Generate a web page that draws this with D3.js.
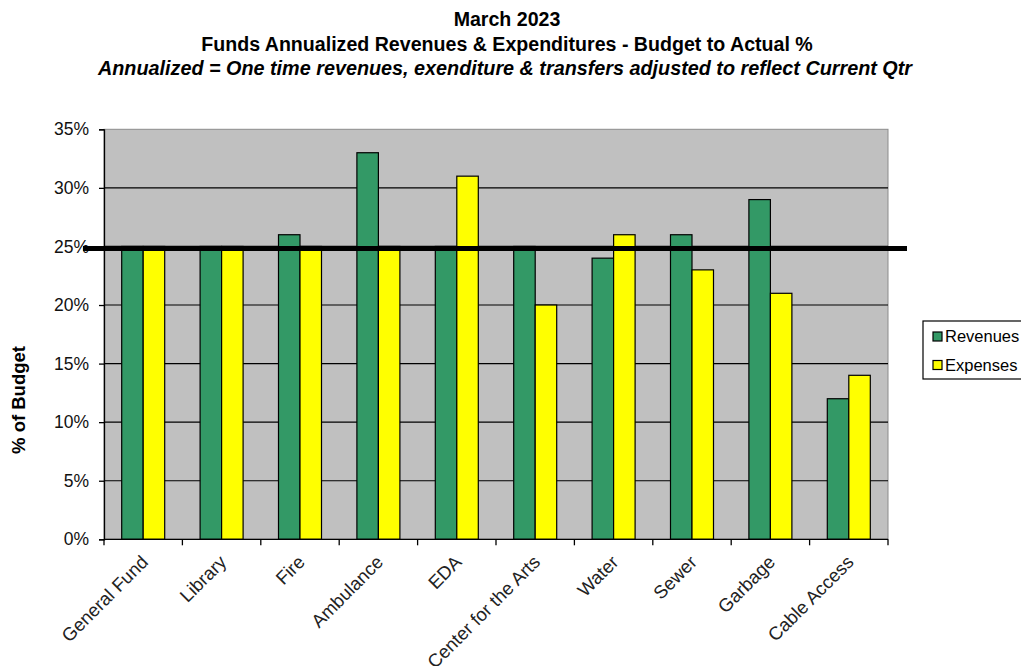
<!DOCTYPE html>
<html>
<head>
<meta charset="utf-8">
<script src="https://cdn.jsdelivr.net/npm/d3@7"></script>
<style>
  html, body { margin: 0; padding: 0; background: #fff; }
  svg { display: block; font-family: "Liberation Sans", Arial, sans-serif; }
</style>
</head>
<body>
<svg id="chart" width="1021" height="666"></svg>
<script>
// Funds budget-to-actual percentages, March 2023
const categories = ["General Fund", "Library", "Fire", "Ambulance", "EDA",
  "Center for the Arts", "Water", "Sewer", "Garbage", "Cable Access"];
const revenues = [25, 25, 26, 33, 25, 25, 24, 26, 29, 12];
const expenses = [25, 25, 25, 25, 31, 20, 26, 23, 21, 14];
const seriesNames = ["Revenues", "Expenses"];
const seriesColors = ["#339966", "#FFFF00"];
const yTicks = [0, 5, 10, 15, 20, 25, 30, 35];
const benchmark = 25; // one quarter of the annual budget
const titleLines = [
  "March 2023",
  "Funds Annualized Revenues & Expenditures - Budget to Actual %",
  "Annualized = One time revenues, exenditure & transfers adjusted to reflect Current Qtr"
];

const svg = d3.select("#chart");
const plot = { left: 104, right: 888, top: 129.3, bottom: 539.3 };

const x = d3.scaleBand().domain(categories).range([plot.left, plot.right]).padding(0);
const y = d3.scaleLinear().domain([0, 35]).range([plot.bottom, plot.top]);
const barW = 21.5;
const xs = d3.scaleBand().domain(seriesNames).range([-barW, barW]).padding(0);

// plot background
svg.append("rect")
  .attr("x", plot.left).attr("y", plot.top)
  .attr("width", plot.right - plot.left).attr("height", plot.bottom - plot.top)
  .attr("fill", "#C0C0C0").attr("stroke", "#8c8c8c").attr("stroke-width", 1);

// gridlines
svg.append("g").selectAll("line").data(yTicks.filter(d => d > 0 && d < 35)).join("line")
  .attr("x1", plot.left).attr("x2", plot.right)
  .attr("y1", d => y(d)).attr("y2", d => y(d))
  .attr("stroke", "#000").attr("stroke-width", 1.2);

// bars
const rows = categories.map((c, i) => ({ cat: c, vals: [revenues[i], expenses[i]] }));
const groups = svg.append("g").selectAll("g").data(rows).join("g")
  .attr("transform", d => `translate(${x(d.cat) + x.bandwidth() / 2},0)`);
groups.selectAll("rect").data(d => d.vals.map((v, j) => ({ v, s: seriesNames[j], c: seriesColors[j] })))
  .join("rect")
  .attr("x", d => xs(d.s)).attr("width", xs.bandwidth())
  .attr("y", d => y(d.v)).attr("height", d => y(0) - y(d.v))
  .attr("fill", d => d.c).attr("stroke", "#000").attr("stroke-width", 1.2);

// y axis
const yAxis = d3.axisLeft(y).tickValues(yTicks).tickFormat(d => d + "%").tickSize(5).tickPadding(10);
const gy = svg.append("g").attr("transform", `translate(${plot.left},0)`).call(yAxis);
gy.select(".domain").attr("stroke", "#000").attr("stroke-width", 1.3);
gy.selectAll(".tick line").attr("stroke", "#000").attr("stroke-width", 1.3);
gy.selectAll(".tick text").attr("font-size", 17.5).attr("fill", "#111")
  .attr("font-family", "'Liberation Sans', Arial, sans-serif");

// x axis with ticks at category boundaries
const gx = svg.append("g").attr("transform", `translate(0,${plot.bottom})`);
gx.append("line").attr("x1", plot.left).attr("x2", plot.right)
  .attr("stroke", "#000").attr("stroke-width", 1.3);
gx.selectAll("line.tk").data(d3.range(categories.length + 1)).join("line")
  .attr("class", "tk")
  .attr("x1", i => plot.left + i * x.step()).attr("x2", i => plot.left + i * x.step())
  .attr("y1", 0).attr("y2", 6).attr("stroke", "#000").attr("stroke-width", 1.3);
gx.selectAll("text").data(categories).join("text")
  .attr("transform", d => `translate(${x(d) + x.bandwidth() / 2 + 6},${24}) rotate(-45)`)
  .attr("text-anchor", "end")
  .attr("font-size", 18.5).attr("fill", "#222")
  .text(d => d);

// benchmark line at 25%
svg.append("line")
  .attr("x1", plot.left - 21).attr("x2", plot.right + 19)
  .attr("y1", y(benchmark) + 2).attr("y2", y(benchmark) + 2)
  .attr("stroke", "#000").attr("stroke-width", 5);

// y axis title
svg.append("text")
  .attr("transform", `translate(25,400) rotate(-90)`)
  .attr("text-anchor", "middle").attr("font-size", 18.5).attr("font-weight", "bold")
  .text("% of Budget");

// titles
const tx = 507;
svg.append("text").attr("x", tx).attr("y", 26).attr("text-anchor", "middle")
  .attr("font-size", 19.6).attr("font-weight", "bold").text(titleLines[0]);
svg.append("text").attr("x", tx).attr("y", 51).attr("text-anchor", "middle")
  .attr("font-size", 19.6).attr("font-weight", "bold").text(titleLines[1]);
svg.append("text").attr("x", tx - 2).attr("y", 75).attr("text-anchor", "middle")
  .attr("font-size", 19.8).attr("font-weight", "bold").attr("font-style", "italic").text(titleLines[2]);

// legend
const lg = svg.append("g").attr("transform", "translate(923,321)");
lg.append("rect").attr("x", 0).attr("y", 0).attr("width", 110).attr("height", 58)
  .attr("fill", "#fff").attr("stroke", "#000").attr("stroke-width", 1.2);
seriesNames.forEach((s, i) => {
  const row = lg.append("g").attr("transform", `translate(10,${11 + i * 28.5})`);
  row.append("rect").attr("width", 9).attr("height", 9)
    .attr("fill", seriesColors[i]).attr("stroke", "#000").attr("stroke-width", 1.2);
  row.append("text").attr("x", 12).attr("y", 10).attr("font-size", 16.5).text(s);
});
</script>
</body>
</html>
